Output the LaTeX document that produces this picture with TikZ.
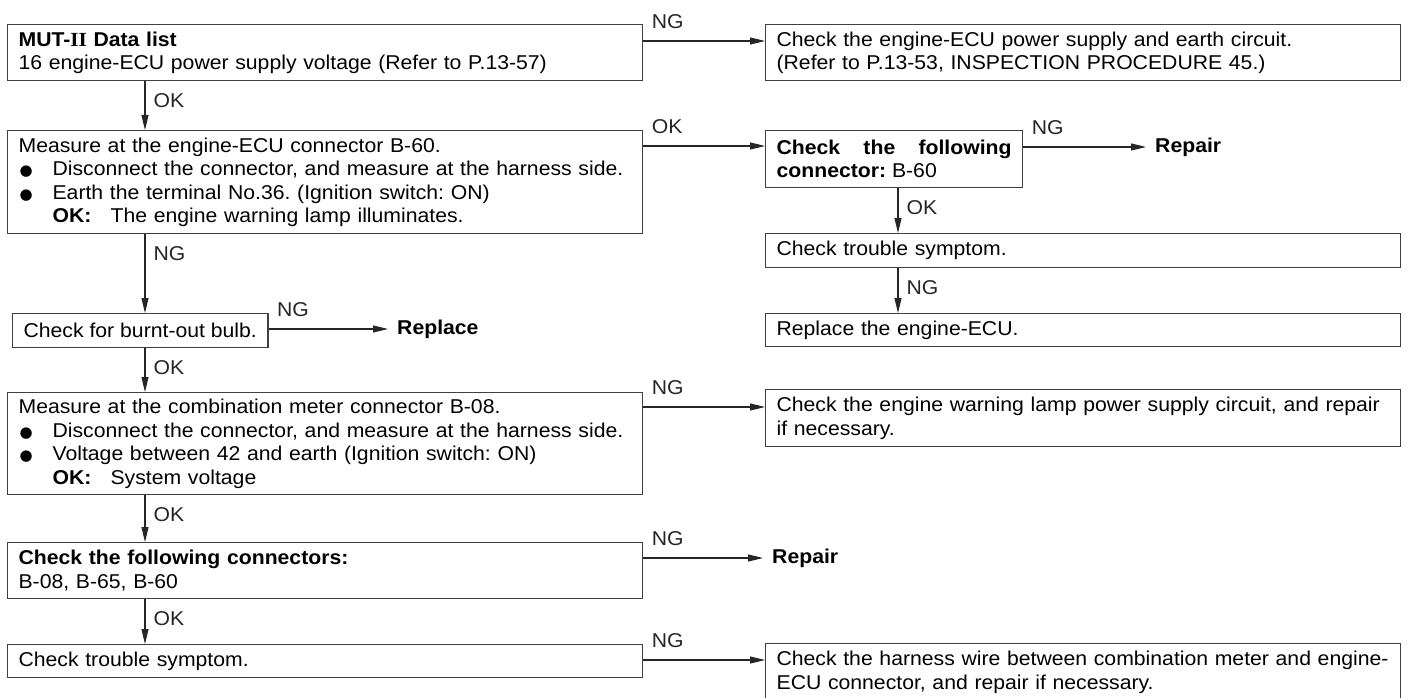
\documentclass[tikz,border=0pt]{standalone}
\usepackage{fontspec}
\setmainfont{Liberation Sans}[FakeStretch=1.06]
\newfontfamily\romfont{Liberation Serif}[FakeStretch=1.06]
\newfontfamily\symfont{DejaVu Sans}
\usetikzlibrary{arrows.meta}
\frenchspacing

\newcommand{\blt}{\makebox[34pt][l]{\hspace{1pt}{\symfont\fontsize{15pt}{15pt}\selectfont ●}}}
\newcommand{\okline}[1]{\hspace*{34pt}\makebox[58pt][l]{\textbf{OK:}}#1}

\begin{document}
\begin{tikzpicture}[x=1pt, y=-1pt,
  every node/.style={font=\fontsize{20pt}{23.5pt}\selectfont},
  frame/.style={draw=black!75, line width=1.2pt, anchor=north west,
    inner xsep=11pt, inner ysep=0pt, align=left},
  chkbox/.style={frame, text width=613pt},
  endtxt/.style={anchor=west, inner xsep=9pt, inner ysep=0pt, font=\fontsize{20pt}{23.5pt}\selectfont\bfseries},
  arr/.style={-{Triangle[length=15pt, width=7pt]}, line width=1.1pt, black!85},
  vlab/.style={anchor=north west, inner sep=0pt, xshift=8pt, yshift=-12pt},
  hlab/.style={anchor=south west, inner sep=0pt, xshift=8pt, yshift=12pt}]

  \fill[white] (0,0) rectangle (1408,698);
  \useasboundingbox (0,0) rectangle (1408,698);

  \coordinate (lc) at (145,0);
  \coordinate (rc) at (898,0);

  % left column
  \node[chkbox, minimum height=56pt] (mut) at (7,24)
    {\textbf{MUT-{\romfont II} Data list}\\16 engine-ECU power supply voltage (Refer to P.13-57)};
  \node[chkbox, minimum height=103pt] (meas1) at (7,130)
    {Measure at the engine-ECU connector B-60.\\
     \blt\mbox{Disconnect the connector, and measure at the harness side.}\\
     \blt Earth the terminal No.36. (Ignition switch: ON)\\
     \okline{The engine warning lamp illuminates.}};
  \node[frame, minimum height=34pt] (bulb) at (12,313) {Check for burnt-out bulb.};
  \node[endtxt] (rpl) at (388,329) {Replace};
  \node[chkbox, minimum height=102pt] (meas2) at (7,392)
    {Measure at the combination meter connector B-08.\\
     \blt\mbox{Disconnect the connector, and measure at the harness side.}\\
     \blt Voltage between 42 and earth (Ignition switch: ON)\\
     \okline{System voltage}};
  \node[chkbox, minimum height=56pt] (conn2) at (7,542)
    {\textbf{Check the following connectors:}\\B-08, B-65, B-60};
  \node[endtxt] (rep2) at (763,558) {Repair};
  \node[chkbox, minimum height=33pt] (trbl2) at (7,644) {Check trouble symptom.};

  % right column
  \node[chkbox, minimum height=56pt] (ecupwr) at (765,24)
    {Check the engine-ECU power supply and earth circuit.\\(Refer to P.13-53, INSPECTION PROCEDURE 45.)};
  \node[frame, text width=235pt, align=justify, minimum height=57pt] (conn1) at (765,130)
    {\textbf{Check the following connector:} B-60};
  \node[endtxt] (rep1) at (1146,147) {Repair};
  \node[chkbox, minimum height=34pt] (trbl1) at (765,233) {Check trouble symptom.};
  \node[chkbox, minimum height=33pt] (ecurep) at (765,313) {Replace the engine-ECU.};
  \node[chkbox, minimum height=57pt] (lamp) at (765,389)
    {\mbox{Check the engine warning lamp power supply circuit, and repair}\\if necessary.};
  \node[chkbox, minimum height=57pt] (harn) at (765,643)
    {\mbox{Check the harness wire between combination meter and engine-}\\ECU connector, and repair if necessary.};

  % side exits
  \coordinate (mutng) at ([yshift=-17pt]mut.north east);
  \coordinate (meas1ok) at ([yshift=-16pt]meas1.north east);
  \coordinate (conn1ng) at ([yshift=-17pt]conn1.north east);
  \coordinate (bulbng) at ([yshift=-16pt]bulb.north east);
  \coordinate (meas2ng) at ([yshift=-15pt]meas2.north east);
  \coordinate (conn2ng) at ([yshift=-16pt]conn2.north east);
  \coordinate (trbl2ng) at ([yshift=-16pt]trbl2.north east);

  \draw[arr] (mutng) node[hlab] {NG} -- (mutng -| ecupwr.west);
  \draw[arr] (meas1ok) node[hlab] {OK} -- (meas1ok -| conn1.west);
  \draw[arr] (conn1ng) node[hlab] {NG} -- (rep1.west);
  \draw[arr] (bulbng) node[hlab] {NG} -- (rpl.west);
  \draw[arr] (meas2ng) node[hlab] {NG} -- (meas2ng -| lamp.west);
  \draw[arr] (conn2ng) node[hlab] {NG} -- (rep2.west);
  \draw[arr] (trbl2ng) node[hlab] {NG} -- (trbl2ng -| harn.west);

  % down the columns
  \draw[arr] (mut.south -| lc) node[vlab] {OK} -- (meas1.north -| lc);
  \draw[arr] (meas1.south -| lc) node[vlab] {NG} -- (bulb.north -| lc);
  \draw[arr] (bulb.south -| lc) node[vlab] {OK} -- (meas2.north -| lc);
  \draw[arr] (meas2.south -| lc) node[vlab] {OK} -- (conn2.north -| lc);
  \draw[arr] (conn2.south -| lc) node[vlab] {OK} -- (trbl2.north -| lc);
  \draw[arr] (conn1.south -| rc) node[vlab] {OK} -- (trbl1.north -| rc);
  \draw[arr] (trbl1.south -| rc) node[vlab] {NG} -- (ecurep.north -| rc);
\end{tikzpicture}
\end{document}
